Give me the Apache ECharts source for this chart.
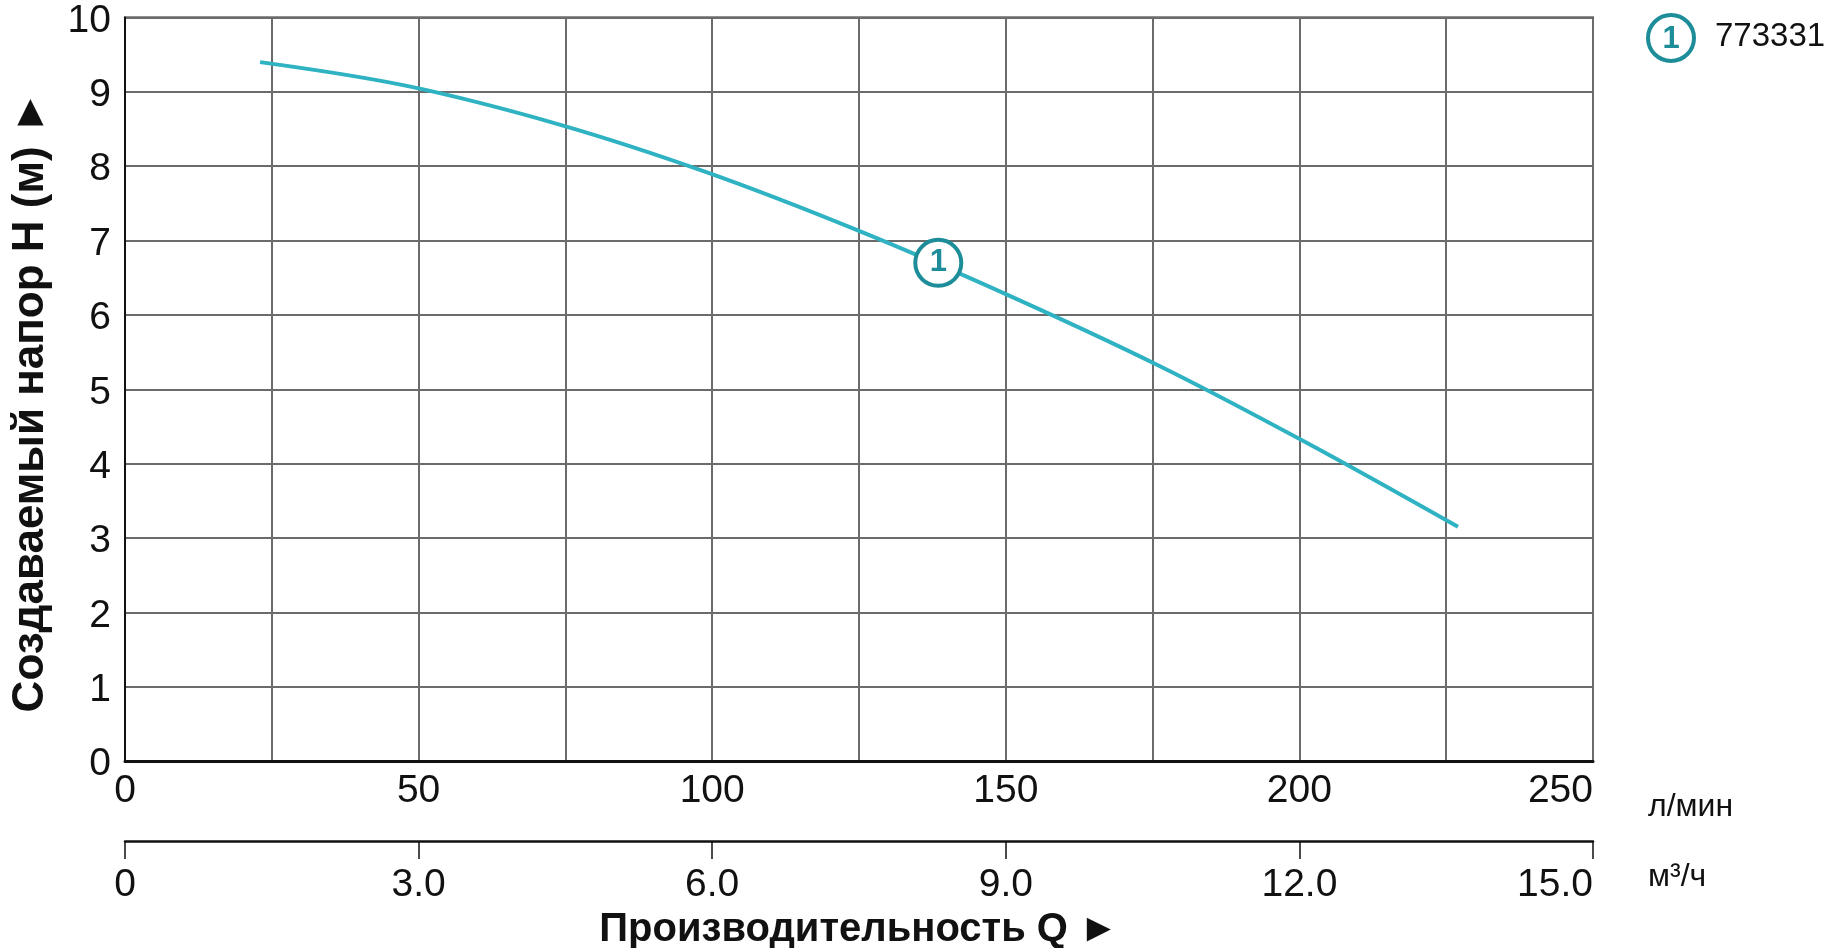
<!DOCTYPE html>
<html>
<head>
<meta charset="utf-8">
<script src="https://cdn.jsdelivr.net/npm/echarts@6/dist/echarts.min.js"></script>
<style>
html,body{margin:0;padding:0;background:#fff;}
#chart{width:1827px;height:948px;}
</style>
</head>
<body>
<div id="chart"></div>
<script>
// Flow rate (л/мин) and head (м)
const flowLpm = [23, 48, 74, 99, 125, 150, 176, 201, 227];
const headM = [9.40, 9.08, 8.56, 7.92, 7.13, 6.28, 5.32, 4.29, 3.15];
// Curve marker "1"
const markerFlow = [138.5];
const markerHead = [6.70];
// Tick labels
const flowTicksLpm = [0, 50, 100, 150, 200, 250];
const flowTicksM3h = [0, 3, 6, 9, 12, 15];
const headTicks = [0, 1, 2, 3, 4, 5, 6, 7, 8, 9, 10];
const seriesName = '773331';
const markerLabel = '1';

const FONT = '"Liberation Sans", Arial, "DejaVu Sans", sans-serif';
const TEAL = '#2fb3c3';
const TEAL_DARK = '#1e8d9a';
const GRIDC = '#6b6b6b';

const chart = echarts.init(document.getElementById('chart'));
const curve = flowLpm.map((q, i) => [q, headM[i]]);
const marker = markerFlow.map((q, i) => [q, markerHead[i]]);

const hiddenAxisParts = {
  axisLine: { show: false }, axisTick: { show: false }, axisLabel: { show: false }, splitLine: { show: false }
};

chart.setOption({
  animation: false,
  backgroundColor: '#fff',
  textStyle: { fontFamily: FONT },
  grid: {
    left: 125, top: 17.5, width: 1468, height: 743.5,
    outerBoundsMode: 'none', containLabel: false,
    show: true, borderColor: '#222', borderWidth: 2, backgroundColor: 'transparent'
  },
  xAxis: [
    {
      type: 'value', min: 0, max: 250, interval: 25,
      axisLine: { show: true, lineStyle: { color: '#111', width: 3 } },
      axisTick: { show: false },
      splitLine: { show: true, lineStyle: { color: GRIDC, width: 2 } },
      axisLabel: {
        fontSize: 39, color: '#111', margin: 11, fontFamily: FONT,
        alignMaxLabel: 'right',
        formatter: v => flowTicksLpm.includes(v) ? String(v) : ''
      }
    },
    {
      type: 'value', min: 0, max: 15, interval: 3, position: 'bottom', offset: 80,
      name: 'Производительность Q ►', nameLocation: 'middle', nameGap: 64,
      nameTextStyle: { fontSize: 40, fontWeight: 'bold', color: '#111', fontFamily: FONT },
      axisLine: { show: true, onZero: false, lineStyle: { color: '#111', width: 2.5 } },
      axisTick: { show: true, inside: false, length: 18, lineStyle: { color: '#111', width: 1.5 } },
      splitLine: { show: false },
      axisLabel: {
        fontSize: 39, color: '#111', margin: 25, fontFamily: FONT,
        alignMaxLabel: 'right',
        formatter: v => flowTicksM3h.includes(v) ? (v === 0 ? '0' : v.toFixed(1)) : ''
      }
    },
    Object.assign({
      type: 'value', min: 0, max: 250, position: 'bottom', offset: 46,
      name: 'л/мин', nameLocation: 'end', nameGap: 55,
      nameTextStyle: { fontSize: 32, color: '#111', fontFamily: FONT, verticalAlign: 'middle' }
    }, hiddenAxisParts),
    Object.assign({
      type: 'value', min: 0, max: 15, position: 'bottom', offset: 116,
      name: 'м³/ч', nameLocation: 'end', nameGap: 55,
      nameTextStyle: { fontSize: 32, color: '#111', fontFamily: FONT, verticalAlign: 'middle' }
    }, hiddenAxisParts)
  ],
  yAxis: {
    type: 'value', min: 0, max: 10, interval: 1,
    name: 'Создаваемый напор H (м) ►\u00a0\u00a0', nameLocation: 'middle', nameGap: 72, nameRotate: 90,
    nameTextStyle: { fontSize: 44, fontWeight: 'bold', color: '#111', fontFamily: FONT },
    axisLine: { show: true, lineStyle: { color: '#111', width: 2 } },
    axisTick: { show: false },
    splitLine: { show: true, lineStyle: { color: GRIDC, width: 2 } },
    axisLabel: {
      fontSize: 39, color: '#111', margin: 14, fontFamily: FONT,
      formatter: v => headTicks.includes(v) ? '{v|' + v + '}' : '',
      rich: { v: { fontSize: 39, color: '#111', fontFamily: FONT, padding: [7, 0, 0, 0] } }
    }
  },
  series: [
    {
      type: 'line', name: seriesName, data: curve, xAxisIndex: 0,
      smooth: 0.35, showSymbol: false, symbol: 'none',
      lineStyle: { color: TEAL, width: 4 }, z: 3
    },
    {
      type: 'scatter', data: marker, xAxisIndex: 0, symbol: 'circle', symbolSize: 46,
      itemStyle: { color: '#fff', borderColor: TEAL_DARK, borderWidth: 4, opacity: 1 },
      label: { show: true, position: 'inside', formatter: markerLabel, fontSize: 31, fontWeight: 'bold', color: TEAL_DARK, fontFamily: FONT },
      z: 5
    }
  ],
  graphic: [
    {
      type: 'group', left: 1646, top: 13,
      children: [
        { type: 'circle', shape: { cx: 25, cy: 25, r: 23 }, style: { fill: '#fff', stroke: TEAL_DARK, lineWidth: 4 } },
        { type: 'text', x: 25, y: 26, style: { text: markerLabel, fill: TEAL_DARK, font: 'bold 31px ' + FONT, align: 'center', verticalAlign: 'middle' } },
        { type: 'text', x: 69, y: 24, style: { text: seriesName, fill: '#111', font: '33px ' + FONT, align: 'left', verticalAlign: 'middle' } }
      ]
    }
  ]
});
</script>
</body>
</html>
